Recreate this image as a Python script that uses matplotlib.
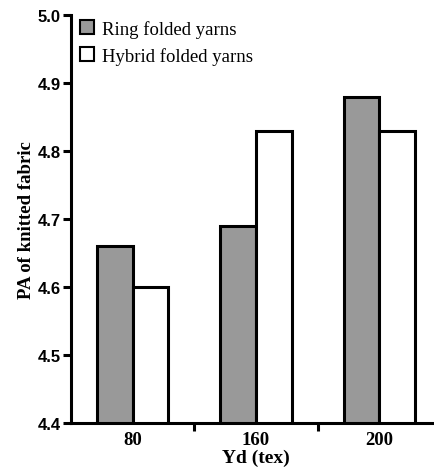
import numpy as np
from matplotlib import pyplot as plt
from matplotlib.patches import Patch

plt.rcParams['font.family'] = ['Liberation Serif', 'DejaVu Serif']

yd_labels = ['80', '160', '200']
ring_pa = [4.66, 4.69, 4.88]
hybrid_pa = [4.60, 4.83, 4.83]

fig = plt.figure(figsize=(4.35, 4.77), dpi=100)
ax = fig.add_axes([71/435, 1 - 424/477, 370/435, 408/477])

x = np.arange(len(yd_labels))
w = 0.29
ax.bar(x - w/2, ring_pa, w, bottom=0, color='#999999', edgecolor='black', linewidth=2.2)
ax.bar(x + w/2, hybrid_pa, w, bottom=0, color='white', edgecolor='black', linewidth=2.2)

ax.set_ylim(4.4, 5.0)
ax.set_xlim(-0.5, 2.5)
ax.set_yticks([4.4, 4.5, 4.6, 4.7, 4.8, 4.9, 5.0])
ax.set_yticklabels(['4.4', '4.5', '4.6', '4.7', '4.8', '4.9', '5.0'], fontweight='bold',
                   fontsize=12, family='Liberation Sans')

# labels sit under the groups, tick marks between them
ax.set_xticks([0.5, 1.5])
ax.set_xticklabels([])
ax.set_xticks(x, minor=True)
ax.set_xticklabels(yd_labels, minor=True, fontweight='bold', fontsize=13.5)
ax.tick_params(axis='x', which='minor', length=0, pad=6)
ax.tick_params(axis='both', which='major', width=2.2, length=6, direction='out', pad=1.5)

for s in ['top', 'right']:
    ax.spines[s].set_visible(False)
for s in ['left', 'bottom']:
    ax.spines[s].set_linewidth(2.2)

ax.set_xlabel('Yd (tex)', fontweight='bold', fontsize=14, labelpad=0.5)
ax.set_ylabel('PA of knitted fabric', fontweight='bold', fontsize=13.5, labelpad=2)

handles = [Patch(facecolor='#999999', edgecolor='black', linewidth=1.5, label='Ring folded yarns'),
           Patch(facecolor='white', edgecolor='black', linewidth=1.5, label='Hybrid folded yarns')]
ax.legend(handles=handles, loc='upper left', bbox_to_anchor=(-0.022, 1.03), frameon=False,
          prop={'size': 13.5}, handlelength=0.75, handleheight=0.75,
          handletextpad=0.45, labelspacing=0.5)

fig.savefig('out.png', dpi=100)
